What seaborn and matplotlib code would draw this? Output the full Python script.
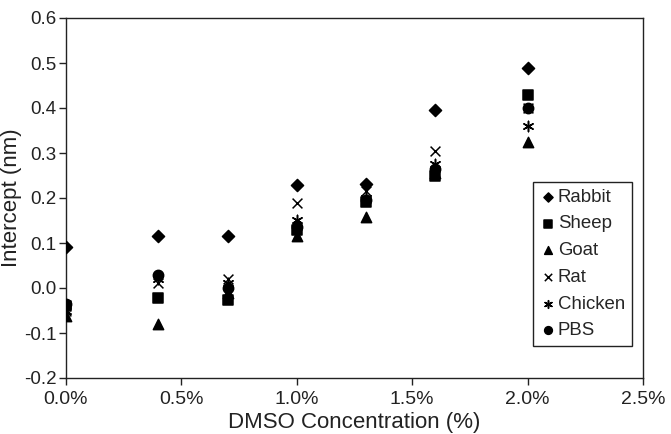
import numpy as np
import pandas as pd
import matplotlib
matplotlib.use("Agg")
import matplotlib.pyplot as plt
import seaborn as sns
from matplotlib.ticker import FuncFormatter

# -------------------------------
# Data
# -------------------------------
dmso = [0.0, 0.4, 0.7, 1.0, 1.3, 1.6, 2.0]
rabbit = [0.092, 0.115, 0.115, 0.230, 0.232, 0.395, 0.488]
sheep = [-0.040, -0.022, -0.026, 0.130, 0.192, 0.250, 0.428]
goat = [-0.062, -0.080, -0.010, 0.115, 0.158, 0.255, 0.325]
rat = [-0.052, 0.012, 0.020, 0.190, 0.215, 0.305, 0.400]
chicken = [-0.050, 0.020, 0.012, 0.152, 0.200, 0.275, 0.360]
pbs = [-0.035, 0.030, 0.000, 0.135, 0.195, 0.265, 0.400]

groups = ["Rabbit", "Sheep", "Goat", "Rat", "Chicken", "PBS"]
series = [rabbit, sheep, goat, rat, chicken, pbs]

df = pd.concat(
    [pd.DataFrame({"DMSO": dmso, "Intercept": vals, "Group": g}) for g, vals in zip(groups, series)],
    ignore_index=True,
)

# -------------------------------
# Plot
# -------------------------------
sns.set_style("ticks")
plt.rcParams["font.family"] = ["Liberation Sans", "DejaVu Sans"]

fig = plt.figure(figsize=(6.71, 4.34), dpi=100)
ax = fig.add_axes([66 / 671, 1 - 378 / 434, 577 / 671, 360 / 434])

markers = {"Rabbit": "D", "Sheep": "s", "Goat": "^", "Rat": "x", "Chicken": (6, 2, 0), "PBS": "o"}
sizes = {"Rabbit": 38, "Sheep": 50, "Goat": 55, "Rat": 50, "Chicken": 55, "PBS": 55}

for g in groups:
    sub = df[df["Group"] == g]
    sns.scatterplot(data=sub, x="DMSO", y="Intercept", marker=markers[g], s=sizes[g],
                    color="black", edgecolor="black", linewidth=1.1, label=g, ax=ax, zorder=3)

ax.set_xlim(0, 2.5)
ax.set_ylim(-0.2, 0.6)
ax.set_xticks(np.arange(0, 2.51, 0.5))
ax.set_yticks(np.arange(-0.2, 0.61, 0.1))
ax.xaxis.set_major_formatter(FuncFormatter(lambda v, p: f"{v:.1f}%"))
ax.yaxis.set_major_formatter(FuncFormatter(lambda v, p: f"{v:.1f}"))
ax.tick_params(axis="x", direction="out", length=5, width=1, labelsize=14, colors="#222222", pad=4)
ax.tick_params(axis="y", direction="out", length=5, width=1, labelsize=13.5, colors="#222222", pad=2)
for sp in ax.spines.values():
    sp.set_visible(True)
    sp.set_color("#222222")
    sp.set_linewidth(1.0)

ax.set_xlabel("DMSO Concentration (%)", fontsize=16, color="#222222", labelpad=3)
ax.set_ylabel("Intercept (nm)", fontsize=16, color="#222222", labelpad=1)

leg = ax.legend(loc="upper left", bbox_to_anchor=(0.809, 0.544), fontsize=13.4, frameon=True,
                fancybox=False, framealpha=1, edgecolor="#222222", handletextpad=0.1,
                handlelength=0.9, labelspacing=0.52, borderpad=0.35, borderaxespad=0,
                markerscale=0.75)
leg.get_frame().set_linewidth(1.0)

fig.savefig("out.png", dpi=100)
